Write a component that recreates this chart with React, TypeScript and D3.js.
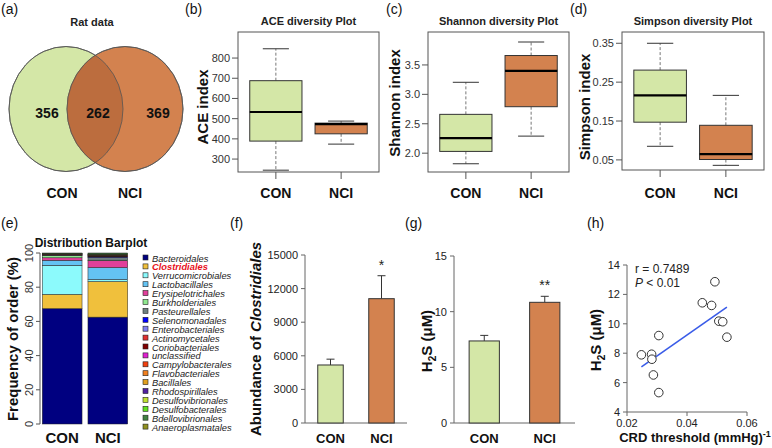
import React from 'react';
import * as d3 from 'd3';

const FONT = "'Liberation Sans', Arial, Helvetica, sans-serif";
const GREEN = '#d4e7a7';
const ORANGE = '#d3824f';
const OVERLAP = '#bc6d3e';
const groupColors = [GREEN, ORANGE];

const groups = ['CON', 'NCI'];

// (a) Venn
const vennCounts = [356, 262, 369];

// (b)-(d) box statistics [min, q1, median, q3, max]
const aceStats = [[245, 389, 533, 688, 846], [374, 425, 473, 478, 488]];
const aceTicks = [300, 400, 500, 600, 700, 800];
const shannonStats = [[1.82, 2.03, 2.256, 2.66, 3.205], [2.29, 2.79, 3.40, 3.66, 3.89]];
const shannonTicks = [2.0, 2.5, 3.0, 3.5];
const simpsonStats = [[0.085, 0.147, 0.216, 0.281, 0.35], [0.036, 0.051, 0.065, 0.139, 0.216]];
const simpsonTicks = [0.05, 0.15, 0.25, 0.35];

// (e) order composition (%)
const orders = ['Bacteroidales', 'Clostridiales', 'Verrucomicrobiales', 'Lactobacillales', 'Erysipelotrichales',
  'Burkholderiales', 'Pasteurellales', 'Selenomonadales', 'Enterobacteriales', 'Actinomycetales',
  'Coriobacteriales', 'unclassified', 'Campylobacterales', 'Flavobacteriales', 'Bacillales',
  'Rhodospirillales', 'Desulfovibrionales', 'Desulfobacterales', 'Bdellovibrionales', 'Anaeroplasmatales'];
const orderColors = ['#000080', '#f0c03c', '#8cfafc', '#64c3f3', '#e0409a', '#90e890', '#6e8080', '#0000ff',
  '#8080f0', '#e03030', '#800000', '#e020d0', '#f04010', '#f08020', '#e0a020', '#5020a0', '#c0e030',
  '#60e020', '#408040', '#909020'];
const conOrders = [67.5, 8.3, 17.0, 2.9, 1.5, 1.2, 0.3, 0.0, 0.1, 0.1, 0.2, 0.1, 0.1, 0.1, 0.1, 0.1, 0.1, 0.1, 0.2, 0.0];
const nciOrders = [62.5, 20.8, 1.2, 7.0, 4.0, 0.3, 1.5, 0.3, 0.2, 0.2, 0.3, 0.3, 0.1, 0.1, 0.1, 0.2, 0.2, 0.1, 0.6, 0.0];
const freqTicks = [0, 20, 40, 60, 80, 100];

// (f) Clostridiales abundance
const clostMean = [5180, 11100];
const clostErr = [520, 2050];
const clostTicks = [0, 3000, 6000, 9000, 12000, 15000];
const clostSig = ['', '*'];

// (g) H2S
const h2sMean = [7.37, 10.84];
const h2sErr = [0.5, 0.54];
const h2sTicks = [0, 5, 10, 15];
const h2sSig = ['', '**'];

// (h) correlation
const crdX = [0.0248, 0.0282, 0.0283, 0.0288, 0.0306, 0.0306, 0.0451, 0.0482, 0.0493, 0.0506, 0.0519, 0.0533];
const crdY = [7.89, 7.93, 7.59, 6.52, 9.20, 5.32, 11.43, 11.25, 12.86, 10.18, 10.14, 9.09];
const corrXTicks = [0.02, 0.04, 0.06];
const corrYTicks = [4, 6, 8, 10, 12, 14];

function PanelLabel({ x, y, t }: { x: number; y: number; t: string }) {
  return <text x={x} y={y} fontSize={14} fill="#111">{t}</text>;
}

function Venn() {
  const l = { cx: 66, cy: 109, rx: 57, ry: 62.5 };
  const r = { cx: 125, cy: 109, rx: 58, ry: 62.5 };
  return (
    <g>
      <defs>
        <clipPath id="vennClip"><ellipse cx={l.cx} cy={l.cy} rx={l.rx} ry={l.ry} /></clipPath>
      </defs>
      <text x={92} y={26} textAnchor="middle" fontSize={11} fontWeight="bold" fill="#222">Rat data</text>
      <ellipse {...l} fill={GREEN} stroke="#555" strokeWidth={0.8} />
      <ellipse {...r} fill={ORANGE} stroke="#555" strokeWidth={0.8} />
      <ellipse {...r} fill={OVERLAP} clipPath="url(#vennClip)" />
      <ellipse {...l} fill="none" stroke="#555" strokeWidth={0.8} />
      <ellipse {...r} fill="none" stroke="#555" strokeWidth={0.8} />
      {[47, 98, 158].map((x, i) => (
        <text key={i} x={x} y={118} textAnchor="middle" fontSize={14} fontWeight="bold" fill="#111">{vennCounts[i]}</text>
      ))}
      <text x={62} y={198} textAnchor="middle" fontSize={14} fontWeight="bold" fill="#111">CON</text>
      <text x={130} y={198} textAnchor="middle" fontSize={14} fontWeight="bold" fill="#111">NCI</text>
    </g>
  );
}

function BoxPanel({ l, t, r, b, domain, ticks, fmt, stats, title, ylabel, ylx, yly }: any) {
  const y = d3.scaleLinear().domain(domain).range([b, t]);
  const x = d3.scalePoint().domain(groups).range([l, r]).padding(0.58);
  const bw = x.step() * 0.8;
  return (
    <g>
      <text x={(l + r) / 2} y={25} textAnchor="middle" fontSize={11} fontWeight="bold" fill="#222">{title}</text>
      <rect x={l} y={t} width={r - l} height={b - t} fill="none" stroke="#555" strokeWidth={1} />
      {ticks.map((v: number) => (
        <g key={v}>
          <line x1={l - 6} x2={l} y1={y(v)} y2={y(v)} stroke="#555" />
          <text x={l - 8} y={y(v) + 4} textAnchor="end" fontSize={11} fill="#333">{fmt(v)}</text>
        </g>
      ))}
      {groups.map((g, i) => {
        const cx = x(g) as number;
        const [mn, q1, md, q3, mx] = stats[i];
        return (
          <g key={g}>
            <line x1={cx} x2={cx} y1={b} y2={b + 7} stroke="#555" />
            <text x={cx} y={198} textAnchor="middle" fontSize={14} fontWeight="bold" fill="#111">{g}</text>
            <line x1={cx} x2={cx} y1={y(q3)} y2={y(mx)} stroke="#777" strokeDasharray="3,2" />
            <line x1={cx} x2={cx} y1={y(q1)} y2={y(mn)} stroke="#777" strokeDasharray="3,2" />
            <line x1={cx - bw / 4} x2={cx + bw / 4} y1={y(mx)} y2={y(mx)} stroke="#333" />
            <line x1={cx - bw / 4} x2={cx + bw / 4} y1={y(mn)} y2={y(mn)} stroke="#333" />
            <rect x={cx - bw / 2} y={y(q3)} width={bw} height={y(q1) - y(q3)} fill={groupColors[i]} stroke="#333" strokeWidth={1} />
            <line x1={cx - bw / 2} x2={cx + bw / 2} y1={y(md)} y2={y(md)} stroke="#000" strokeWidth={2.2} />
          </g>
        );
      })}
      <text transform={`translate(${ylx},${yly}) rotate(-90)`} textAnchor="middle" fontSize={15} fontWeight="bold" fill="#111">{ylabel}</text>
    </g>
  );
}

function StackPanel() {
  const y = d3.scaleLinear().domain([0, 100]).range([424, 253]);
  const x = d3.scaleBand().domain(groups).range([40, 130]).paddingInner(0.13).paddingOuter(0.05);
  const data = [conOrders, nciOrders];
  return (
    <g>
      <text x={91} y={247} textAnchor="middle" fontSize={12} fontWeight="bold" fill="#111">Distribution  Barplot</text>
      <line x1={40} x2={40} y1={y(0)} y2={y(100)} stroke="#555" />
      {freqTicks.map((v) => (
        <g key={v}>
          <line x1={36} x2={40} y1={y(v)} y2={y(v)} stroke="#555" />
          <text transform={`translate(33,${y(v)}) rotate(-90)`} textAnchor="middle" fontSize={11} fill="#333">{v}</text>
        </g>
      ))}
      <text transform="translate(18,339) rotate(-90)" textAnchor="middle" fontSize={15} fontWeight="bold" fill="#111">Frequency of order (%)</text>
      {groups.map((g, gi) => {
        let cum = 0;
        const bx = x(g) as number;
        return (
          <g key={g}>
            {data[gi].map((v, k) => {
              const y0 = cum;
              cum += v;
              if (v <= 0) return null;
              return <rect key={k} x={bx} y={y(cum)} width={x.bandwidth()} height={y(y0) - y(cum)} fill={orderColors[k]} stroke="#222" strokeWidth={0.5} />;
            })}
            <text x={bx + x.bandwidth() / 2} y={443} textAnchor="middle" fontSize={15} fontWeight="bold" fill="#111">{g}</text>
          </g>
        );
      })}
      {orders.map((o, k) => (
        <g key={o}>
          <rect x={143} y={255 + k * 8.9} width={5} height={5} fill={orderColors[k]} stroke="#222" strokeWidth={0.6} />
          <text x={152} y={261.5 + k * 8.9} fontSize={9.3} fontStyle="italic" fill={k === 1 ? '#e8101a' : '#222'} fontWeight={k === 1 ? 'bold' : 'normal'}>{o}</text>
        </g>
      ))}
    </g>
  );
}

function BarPanel({ l, r, t, b, domain, ticks, means, errs, sig, ylabel, ylx, yly, lblSize }: any) {
  const y = d3.scaleLinear().domain(domain).range([b, t]);
  const x = d3.scalePoint().domain(groups).range([l, r]).padding(0.5);
  const bw = x.step() * 0.5;
  return (
    <g>
      <line x1={l} x2={l} y1={b} y2={t} stroke="#666" />
      <line x1={l} x2={r} y1={b} y2={b} stroke="#666" />
      {ticks.map((v: number) => (
        <g key={v}>
          <line x1={l - 4} x2={l} y1={y(v)} y2={y(v)} stroke="#666" />
          <text x={l - 7} y={y(v) + 4} textAnchor="end" fontSize={11} fill="#222">{v}</text>
        </g>
      ))}
      {groups.map((g, i) => {
        const cx = x(g) as number;
        const top = means[i] + errs[i];
        return (
          <g key={g}>
            <line x1={cx} x2={cx} y1={y(means[i])} y2={y(top)} stroke="#333" />
            <line x1={cx - 4} x2={cx + 4} y1={y(top)} y2={y(top)} stroke="#333" />
            <rect x={cx - bw / 2} y={y(means[i])} width={bw} height={b - y(means[i])} fill={groupColors[i]} stroke="#333" />
            {sig[i] && <text x={cx} y={y(top) - 6} textAnchor="middle" fontSize={14} fill="#222">{sig[i]}</text>}
            <text x={cx} y={443} textAnchor="middle" fontSize={lblSize} fontWeight="bold" fill="#111">{g}</text>
          </g>
        );
      })}
      <text transform={`translate(${ylx},${yly}) rotate(-90)`} textAnchor="middle" fontSize={15} fontWeight="bold" fill="#111">{ylabel}</text>
    </g>
  );
}

function CorrPanel() {
  const x = d3.scaleLinear().domain([0.02, 0.06]).range([627, 747]);
  const y = d3.scaleLinear().domain([4, 14]).range([412, 265]);
  const mx = d3.mean(crdX) as number;
  const my = d3.mean(crdY) as number;
  let sxy = 0, sxx = 0;
  crdX.forEach((v, i) => { sxy += (v - mx) * (crdY[i] - my); sxx += (v - mx) ** 2; });
  const slope = sxy / sxx;
  const icpt = my - slope * mx;
  const [x0, x1] = d3.extent(crdX) as [number, number];
  return (
    <g>
      <line x1={627} x2={627} y1={412} y2={265} stroke="#666" />
      <line x1={627} x2={747} y1={412} y2={412} stroke="#666" />
      {corrYTicks.map((v) => (
        <g key={v}>
          <line x1={623} x2={627} y1={y(v)} y2={y(v)} stroke="#666" />
          <text x={620} y={y(v) + 4} textAnchor="end" fontSize={11} fill="#222">{v}</text>
        </g>
      ))}
      {corrXTicks.map((v) => (
        <g key={v}>
          <line x1={x(v)} x2={x(v)} y1={412} y2={416} stroke="#666" />
          <text x={x(v)} y={427} textAnchor="middle" fontSize={11} fill="#222">{v.toFixed(2)}</text>
        </g>
      ))}
      <line x1={x(x0)} x2={x(x1)} y1={y(icpt + slope * x0)} y2={y(icpt + slope * x1)} stroke="#3a5ce8" strokeWidth={1.6} />
      {crdX.map((v, i) => (
        <circle key={i} cx={x(v)} cy={y(crdY[i])} r={4.3} fill="#fff" stroke="#333" strokeWidth={1} />
      ))}
      <text x={635} y={273} fontSize={12} fill="#222">r = 0.7489</text>
      <text x={635} y={287} fontSize={12} fill="#222"><tspan fontStyle="italic">P</tspan> &lt; 0.01</text>
      <text x={695} y={442} textAnchor="middle" fontSize={13} fontWeight="bold" fill="#111">CRD threshold (mmHg)<tspan fontSize={9} dy={-5}>-1</tspan></text>
      <text transform="translate(601,340) rotate(-90)" textAnchor="middle" fontSize={15} fontWeight="bold" fill="#111">H<tspan fontSize={10} dy={4}>2</tspan><tspan dy={-4}>S (μM)</tspan></text>
    </g>
  );
}

export default function App() {
  return (
    <div style={{ position: 'absolute', left: 0, top: 0 }}>
      <svg width={772} height={448} style={{ display: 'block', fontFamily: FONT }}>
        <rect width={772} height={448} fill="#fff" />
        <PanelLabel x={1} y={14} t="(a)" />
        <PanelLabel x={185} y={14} t="(b)" />
        <PanelLabel x={386} y={14} t="(c)" />
        <PanelLabel x={570} y={14} t="(d)" />
        <PanelLabel x={1} y={228} t="(e)" />
        <PanelLabel x={230} y={228} t="(f)" />
        <PanelLabel x={405} y={228} t="(g)" />
        <PanelLabel x={587} y={228} t="(h)" />
        <Venn />
        <BoxPanel l={238} t={32} r={379} b={172} domain={[236, 929]} ticks={aceTicks} fmt={(v: number) => String(v)}
          stats={aceStats} title="ACE  diversity  Plot" ylabel="ACE index" ylx={208} yly={107} />
        <BoxPanel l={428} t={32} r={569} b={172} domain={[1.68, 4.06]} ticks={shannonTicks} fmt={(v: number) => v.toFixed(1)}
          stats={shannonStats} title="Shannon  diversity Plot" ylabel="Shannon index" ylx={400} yly={103} />
        <BoxPanel l={622} t={32} r={764} b={170} domain={[0.024, 0.379]} ticks={simpsonTicks} fmt={(v: number) => v.toFixed(2)}
          stats={simpsonStats} title="Simpson  diversity  Plot" ylabel="Simpson index" ylx={590} yly={107} />
        <StackPanel />
        <BarPanel l={305} r={407} t={255} b={423} domain={[0, 15000]} ticks={clostTicks} means={clostMean} errs={clostErr}
          sig={clostSig} ylabel={<>Abundance of <tspan fontStyle="italic">Clostridiales</tspan></>} ylx={261} yly={339} lblSize={13} />
        <BarPanel l={454} r={575} t={256} b={423} domain={[0, 15]} ticks={h2sTicks} means={h2sMean} errs={h2sErr}
          sig={h2sSig} ylabel={<>H<tspan fontSize={10} dy={4}>2</tspan><tspan dy={-4}>S (μM)</tspan></>} ylx={432} yly={341} lblSize={13} />
        <CorrPanel />
      </svg>
    </div>
  );
}
